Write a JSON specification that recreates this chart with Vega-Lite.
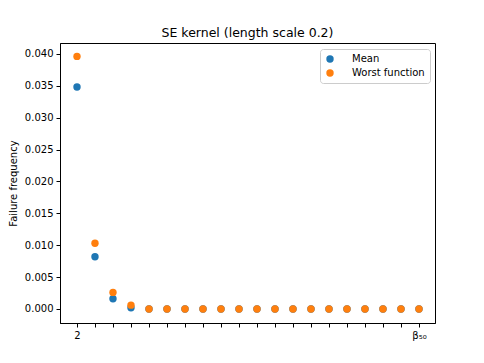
{
  "$schema": "https://vega.github.io/schema/vega-lite/v6.json",
  "autosize": "none",
  "width": 375,
  "height": 280,
  "padding": {"left": 60, "top": 43, "right": 49, "bottom": 40},
  "background": "white",
  "title": {"text": "SE kernel (length scale 0.2)", "font": "DejaVu Sans", "fontSize": 12.5, "fontWeight": "normal", "color": "black", "offset": 4},
  "config": {
    "view": {"stroke": "black", "strokeWidth": 1},
    "axis": {"grid": false, "domainColor": "black", "tickColor": "black", "labelColor": "black", "labelFont": "DejaVu Sans", "labelFontSize": 10, "titleFont": "DejaVu Sans", "titleFontSize": 10, "titleFontWeight": "normal", "titleColor": "black", "tickSize": 4, "labelPadding": 3}
  },
  "data": {"values": [
    {"i": 1, "series": "Mean", "v": 0.0348},
    {"i": 2, "series": "Mean", "v": 0.0082},
    {"i": 3, "series": "Mean", "v": 0.0016},
    {"i": 4, "series": "Mean", "v": 0.0002},
    {"i": 5, "series": "Mean", "v": 0},
    {"i": 6, "series": "Mean", "v": 0},
    {"i": 7, "series": "Mean", "v": 0},
    {"i": 8, "series": "Mean", "v": 0},
    {"i": 9, "series": "Mean", "v": 0},
    {"i": 10, "series": "Mean", "v": 0},
    {"i": 11, "series": "Mean", "v": 0},
    {"i": 12, "series": "Mean", "v": 0},
    {"i": 13, "series": "Mean", "v": 0},
    {"i": 14, "series": "Mean", "v": 0},
    {"i": 15, "series": "Mean", "v": 0},
    {"i": 16, "series": "Mean", "v": 0},
    {"i": 17, "series": "Mean", "v": 0},
    {"i": 18, "series": "Mean", "v": 0},
    {"i": 19, "series": "Mean", "v": 0},
    {"i": 20, "series": "Mean", "v": 0},
    {"i": 1, "series": "Worst function", "v": 0.0396},
    {"i": 2, "series": "Worst function", "v": 0.0103},
    {"i": 3, "series": "Worst function", "v": 0.0026},
    {"i": 4, "series": "Worst function", "v": 0.0006},
    {"i": 5, "series": "Worst function", "v": 0},
    {"i": 6, "series": "Worst function", "v": 0},
    {"i": 7, "series": "Worst function", "v": 0},
    {"i": 8, "series": "Worst function", "v": 0},
    {"i": 9, "series": "Worst function", "v": 0},
    {"i": 10, "series": "Worst function", "v": 0},
    {"i": 11, "series": "Worst function", "v": 0},
    {"i": 12, "series": "Worst function", "v": 0},
    {"i": 13, "series": "Worst function", "v": 0},
    {"i": 14, "series": "Worst function", "v": 0},
    {"i": 15, "series": "Worst function", "v": 0},
    {"i": 16, "series": "Worst function", "v": 0},
    {"i": 17, "series": "Worst function", "v": 0},
    {"i": 18, "series": "Worst function", "v": 0},
    {"i": 19, "series": "Worst function", "v": 0},
    {"i": 20, "series": "Worst function", "v": 0}
  ]},
  "mark": {"type": "point", "filled": true, "shape": "circle", "size": 55, "opacity": 1},
  "encoding": {
    "x": {"field": "i", "type": "quantitative", "scale": {"domain": [0.056, 20.89], "nice": false, "zero": false},
      "axis": {"title": null, "values": [1,2,3,4,5,6,7,8,9,10,11,12,13,14,15,16,17,18,19,20], "labelExpr": "datum.value == 1 ? '2' : (datum.value == 20 ? 'β₅₀' : '')", "labelFlush": false}},
    "y": {"field": "v", "type": "quantitative", "scale": {"domain": [-0.0022, 0.0417], "nice": false, "zero": false},
      "axis": {"title": "Failure frequency", "values": [0,0.005,0.01,0.015,0.02,0.025,0.03,0.035,0.04], "format": ".3f", "titlePadding": 6}},
    "color": {"field": "series", "type": "nominal", "scale": {"domain": ["Mean", "Worst function"], "range": ["#1f77b4", "#ff7f0e"]},
      "legend": {"title": null, "orient": "none", "legendX": 260, "legendY": 6, "strokeColor": "#cccccc", "fillColor": "white", "cornerRadius": 3, "padding": 5, "labelFont": "DejaVu Sans", "labelFontSize": 10, "labelColor": "black", "symbolSize": 55, "symbolType": "circle", "rowPadding": 4, "labelOffset": 17}}
  }
}
